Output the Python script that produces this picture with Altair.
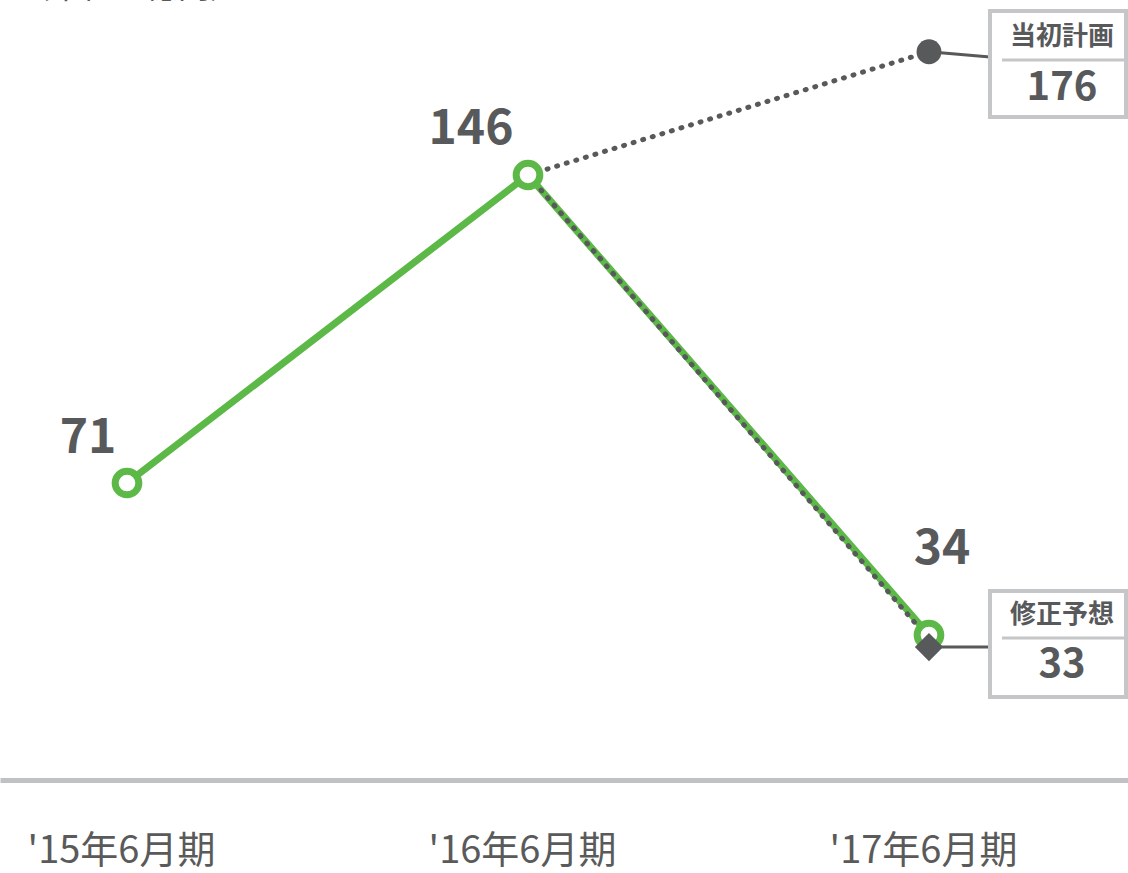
import json
import altair as alt
import pandas as pd

# ---- data -------------------------------------------------------------
periods = ["'15年6月期", "'16年6月期", "'17年6月期"]
period_index = [0, 1, 2]
actual = [71, 146, 34]
plan_label = "当初計画"
plan_value = 176
revised_label = "修正予想"
revised_value = 33
unit_label = "（単位：億円）"

# ---- styles -----------------------------------------------------------
FONT = "Noto Sans CJK JP"
DARK = "#58595b"
GREEN = "#5cb947"
BORDER = "#c5c6c8"

df_actual = pd.DataFrame({"i": period_index, "period": periods, "value": actual})
df_plan = pd.DataFrame({"i": period_index[1:], "value": [actual[1], plan_value]})
df_rev = pd.DataFrame({"i": period_index[1:], "value": [actual[1], revised_value]})
df_plan_pt = pd.DataFrame({"i": [period_index[2]], "value": [plan_value], "label": [plan_label]})
df_rev_pt = pd.DataFrame({"i": [period_index[2]], "value": [revised_value], "label": [revised_label]})
df_unit = pd.DataFrame({"t": [unit_label]})

label_expr = "[" + ",".join(json.dumps(p, ensure_ascii=False) for p in periods) + "][round(datum.value)]"

x_enc = alt.X(
    "i:Q",
    scale=alt.Scale(domain=[-0.3167, 2.4963], nice=False, zero=False),
    axis=alt.Axis(
        values=period_index,
        labelExpr=label_expr,
        title=None,
        grid=False,
        ticks=False,
        domain=True,
        domainColor="#c0c1c4",
        domainWidth=5,
        labelFont=FONT,
        labelFontSize=38,
        labelColor="#5a5a5a",
        labelPadding=52,
        labelOffset=-6,
        labelLimit=0,
        labelOverlap=False,
    ),
)
y_enc = alt.Y("value:Q", scale=alt.Scale(domain=[-1.3, 188.6], nice=False, zero=False), axis=None)

green_line = alt.Chart(df_actual).mark_line(color=GREEN, strokeWidth=7).encode(x=x_enc, y=y_enc)

dotted = dict(color=DARK, strokeWidth=5, strokeDash=[1, 9], strokeCap="round")
plan_line = alt.Chart(df_plan).mark_line(**dotted).encode(x=x_enc, y=y_enc)
rev_line = alt.Chart(df_rev).mark_line(**dotted).encode(x=x_enc, y=y_enc)

green_pts = alt.Chart(df_actual).mark_point(
    shape="circle", filled=False, fill="white", fillOpacity=1, color=GREEN, strokeWidth=7, size=560, opacity=1
).encode(x=x_enc, y=y_enc)

plan_pt = alt.Chart(df_plan_pt).mark_point(shape="circle", filled=True, color=DARK, size=620, opacity=1).encode(
    x=x_enc, y=y_enc
)
rev_pt = alt.Chart(df_rev_pt).mark_point(
    shape="diamond", filled=True, color=DARK, size=800, opacity=1, yOffset=8
).encode(x=x_enc, y=y_enc)

# connectors to the callout boxes
plan_conn = alt.Chart(df_plan_pt).mark_rule(color=DARK, strokeWidth=3).encode(
    x=x_enc, y=y_enc, x2=alt.value(990), y2=alt.value(57)
)
rev_conn = alt.Chart(df_rev_pt).mark_rule(color=DARK, strokeWidth=3, yOffset=8, y2Offset=8).encode(
    x=x_enc, y=y_enc, x2=alt.value(990), y2="value:Q"
)

# value labels for the actual series
label_offsets = [(-39, -44), (-57, -45), (13, -85)]
value_labels = []
for k, (dx, dy) in enumerate(label_offsets):
    value_labels.append(
        alt.Chart(df_actual.iloc[[k]]).mark_text(
            font=FONT, fontSize=48, fontWeight="bold", color=DARK, dx=dx, dy=dy, align="center", baseline="middle"
        ).encode(x=x_enc, y=y_enc, text="value:Q")
    )


def callout(df, top, bottom, sep_y, head_y, val_y):
    box = alt.Chart(df).mark_rect(fill="white", stroke=BORDER, strokeWidth=4).encode(
        x=alt.value(990), x2=alt.value(1126), y=alt.value(top), y2=alt.value(bottom)
    )
    sep = alt.Chart(df).mark_rule(color=BORDER, strokeWidth=3).encode(
        x=alt.value(1002), x2=alt.value(1125), y=alt.value(sep_y)
    )
    head = alt.Chart(df).mark_text(
        font=FONT, fontSize=26, fontWeight="bold", color=DARK, align="center", baseline="middle"
    ).encode(x=alt.value(1062), y=alt.value(head_y), text="label:N")
    val = alt.Chart(df).mark_text(
        font=FONT, fontSize=40, fontWeight="bold", color=DARK, align="center", baseline="middle"
    ).encode(x=alt.value(1062), y=alt.value(val_y), text="value:Q")
    return [box, sep, head, val]


plan_box = callout(df_plan_pt, 11, 117, 60, 37, 88)
rev_box = callout(df_rev_pt, 591, 697, 638, 615, 665)

unit = alt.Chart(df_unit).mark_text(
    font=FONT, fontSize=32, color=DARK, align="left", baseline="bottom"
).encode(x=alt.value(18), y=alt.value(5), text="t:N")

chart = alt.layer(
    unit,
    green_line,
    plan_line,
    rev_line,
    plan_conn,
    rev_conn,
    green_pts,
    plan_pt,
    rev_pt,
    *value_labels,
    *plan_box,
    *rev_box,
).properties(
    width=1128,
    height=780,
    autosize=alt.AutoSizeParams(type="none"),
    padding={"left": 0, "right": 0, "top": 0, "bottom": 93},
).configure_view(strokeWidth=0)

chart.save("out.html", embed_options={"renderer": "svg", "actions": False})
